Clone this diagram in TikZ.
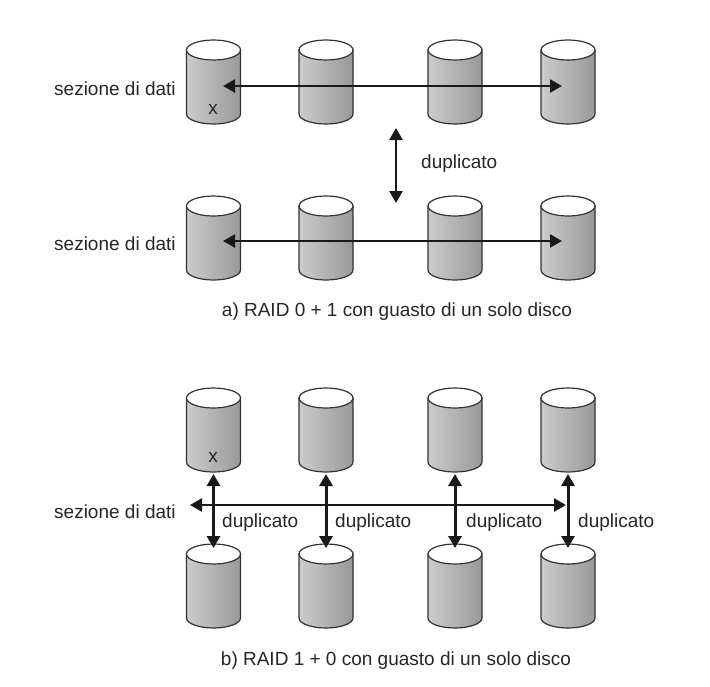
\documentclass[tikz,border=0pt]{standalone}
\usepackage{fontspec}
\setmainfont{Liberation Sans}
\usetikzlibrary{arrows.meta}
\tikzset{
  x=1pt,y=-1pt,
  lbl/.style={inner sep=0pt,font=\fontsize{19}{22}\selectfont,text=black!85},
  link/.style={draw=black!90,line width=2.4pt,{Triangle[length=12pt,width=13pt]}-{Triangle[length=12pt,width=13pt]}},
  pics/disk/.style={code={
    \draw[line width=1.2pt,draw=black!80,left color=black!20,right color=black!40]
      (-27,10) -- (-27,74) arc[start angle=180,end angle=0,x radius=27,y radius=10]
      -- (27,10) -- cycle;
    \draw[line width=1.2pt,draw=black!80,fill=white] (0,10) ellipse[x radius=27,y radius=10];
    \coordinate (-top) at (0,4);
    \coordinate (-bot) at (0,86);
  }}
}
\begin{document}
\begin{tikzpicture}
\useasboundingbox (0,0) rectangle (710,686);
% upper group
\foreach \n/\cx in {1/213.5,2/326,3/455,4/568}{
  \pic (p\n) at (\cx,40) {disk};
  \pic (q\n) at (\cx,196) {disk};
  \pic (r\n) at (\cx,388) {disk};
  \pic (s\n) at (\cx,544) {disk};
}
\node[lbl,anchor=base west] (sa) at (54,95) {sezione di dati};
\node[lbl,anchor=base west] (sb) at (54,250) {sezione di dati};
\node[lbl,anchor=base west] (sc) at (54,518) {sezione di dati};
\node[lbl,anchor=base] (xa) at (213,114) {x};
\node[lbl,anchor=base] (xb) at (213,462) {x};
\coordinate (ta) at (223,86);
\coordinate (tb) at (562,86);
\coordinate (tc) at (223,241);
\coordinate (td) at (562,241);
\draw[link] (ta) -- (tb);
\draw[link] (tc) -- (td);
\coordinate (da) at (396,128);
\coordinate (db) at (396,203);
\draw[link] (da) -- (db);
\node[lbl,anchor=base west] (dup) at (421,168) {duplicato};
\node[lbl,anchor=base] (capa) at (397,316) {a) RAID 0 + 1 con guasto di un solo disco};
% lower group
\coordinate (ha) at (190,505);
\coordinate (hb) at (566,505);
\draw[link,line width=2.7pt] (ha) -- (hb);
\foreach \n/\tx in {1/222,2/335,3/466,4/578}{
  \draw[link,line width=3pt] (r\n-bot) -- (s\n-top);
  \node[lbl,anchor=base west] (d\n) at (\tx,527) {duplicato};
}
\node[lbl,anchor=base] (capb) at (396,665) {b) RAID 1 + 0 con guasto di un solo disco};
\end{tikzpicture}
\end{document}
